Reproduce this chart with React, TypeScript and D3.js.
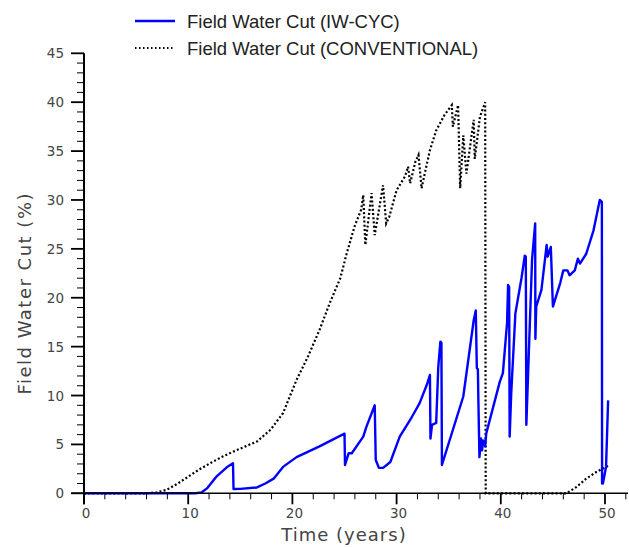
import React from "react";
import * as d3 from "d3";

const convTime = [0, 6.0, 7.0, 7.9, 9.0, 10.0, 11.0, 12.1, 13.2, 14.3, 15.5, 16.6, 17.9, 19.1, 20.4, 21.5, 22.6, 23.6, 24.6, 25.2, 26.0, 26.6, 26.8, 27.0, 27.6, 27.9, 28.7, 29.0, 29.3, 30.0, 30.8, 31.1, 31.3, 31.8, 32.1, 32.4, 32.7, 33.2, 33.8, 34.6, 35.3, 35.4, 35.9, 36.1, 36.4, 36.7, 37.4, 37.5, 38.0, 38.5, 38.55, 38.6, 46.3, 47.2, 48.2, 49.2, 50.3];
const convValue = [0, 0, 0.1, 0.34, 1.0, 1.7, 2.4, 3.07, 3.7, 4.25, 4.8, 5.3, 6.5, 8.2, 11.6, 14.0, 16.7, 19.5, 22.0, 24.5, 27.4, 29.0, 30.5, 25.4, 30.7, 26.4, 31.5, 27.6, 28.3, 31.0, 32.4, 33.4, 31.7, 33.9, 34.6, 31.2, 32.7, 35.1, 37.1, 38.7, 39.7, 37.5, 39.7, 31.2, 36.6, 32.7, 38.2, 34.2, 38.5, 40.0, 0, 0, 0, 0.6, 1.5, 2.2, 2.8];

const cycTime = [0, 10.7, 11.3, 11.8, 12.7, 13.7, 14.3, 14.35, 15.0, 16.6, 17.4, 18.2, 19.1, 20.4, 22.6, 25.0, 25.05, 25.4, 25.7, 26.8, 27.1, 27.9, 28.0, 28.3, 28.7, 29.4, 30.3, 31.3, 32.2, 32.9, 33.2, 33.25, 33.4, 33.8, 34.0, 34.2, 34.3, 34.35, 36.4, 37.4, 37.6, 37.7, 37.8, 37.85, 37.95, 38.1, 38.2, 38.3, 38.5, 38.6, 39.9, 40.2, 40.6, 40.7, 40.8, 40.85, 41.0, 41.4, 42.0, 42.3, 42.4, 42.45, 42.6, 43.0, 43.3, 43.32, 43.4, 43.9, 44.4, 44.5, 44.8, 45.0, 45.7, 46.0, 46.4, 46.6, 47.1, 47.4, 47.6, 48.2, 48.9, 49.5, 49.7, 49.72, 49.8, 50.1, 50.3];
const cycValue = [0, 0, 0.1, 0.5, 1.7, 2.66, 3.07, 0.44, 0.45, 0.6, 1.0, 1.5, 2.7, 3.7, 4.8, 6.1, 2.9, 4.1, 4.1, 5.8, 6.8, 9.0, 3.4, 2.6, 2.6, 3.2, 5.8, 7.5, 9.2, 11.1, 12.1, 5.6, 7.0, 7.2, 12.9, 15.5, 15.4, 2.9, 9.9, 17.7, 18.7, 12.8, 12.7, 9.4, 3.7, 5.6, 4.4, 5.4, 4.8, 6.1, 11.4, 12.3, 17.4, 21.3, 21.1, 5.8, 10.2, 18.4, 22.1, 24.3, 24.2, 7.0, 11.6, 23.9, 27.6, 15.8, 19.1, 20.8, 25.4, 24.2, 25.2, 19.1, 21.5, 22.8, 22.8, 22.3, 22.8, 24.0, 23.5, 24.5, 26.9, 30.0, 29.8, 1.0, 1.0, 2.7, 9.5];

const xTicks = [0, 10, 20, 30, 40, 50];
const yTicks = [0, 5, 10, 15, 20, 25, 30, 35, 40, 45];

const seriesNames = ["Field Water Cut (IW-CYC)", "Field Water Cut (CONVENTIONAL)"];

export default function App() {
  const W = 629, H = 547;
  const x = d3.scaleLinear().domain([0, 50]).range([84, 605]);
  const y = d3.scaleLinear().domain([0, 45]).range([493.3, 53.3]);
  const line = d3.line<[number, number]>().x(d => x(d[0])).y(d => y(d[1]));
  const cyc = cycTime.map((t, i) => [t, cycValue[i]] as [number, number]);
  const conv = convTime.map((t, i) => [t, convValue[i]] as [number, number]);
  const x0 = x(0), y0 = y(0);
  const xMinor = d3.range(0, 53, 2).filter(v => v % 10 !== 0);
  const yMinor = d3.range(0, 45, 1).filter(v => v % 5 !== 0);
  const tickFont = "'DejaVu Sans', sans-serif";
  const legFont = "'Liberation Sans', Arial, sans-serif";
  return (
    <svg width={W} height={H} style={{ position: "absolute", left: 0, top: 0, background: "#fff" }}>
      {/* legend */}
      <line x1={135} x2={175} y1={21} y2={21} stroke="#0000ff" strokeWidth={2.5} />
      <text x={187} y={27.5} fontFamily={legFont} fontSize={18.5} fill="#222">{seriesNames[0]}</text>
      <line x1={135} x2={175} y1={48} y2={48} stroke="#000" strokeWidth={2} strokeDasharray="1.5 2.5" />
      <text x={187} y={54.5} fontFamily={legFont} fontSize={18.5} fill="#222">{seriesNames[1]}</text>

      {/* data */}
      <path d={line(conv) || ""} fill="none" stroke="#000" strokeWidth={2.2} strokeDasharray="2 2.2" />
      <path d={line(cyc) || ""} fill="none" stroke="#0000ff" strokeWidth={2.4} strokeLinejoin="round" />

      {/* axes */}
      <line x1={x0} x2={x0} y1={y(45)} y2={y0 + 11} stroke="#000" strokeWidth={2} />
      <line x1={x0 - 13} x2={628} y1={y0} y2={y0} stroke="#000" strokeWidth={1.5} />
      {yTicks.map(v => (
        <g key={"yt" + v}>
          <line x1={x0 - 13} x2={x0} y1={y(v)} y2={y(v)} stroke="#000" strokeWidth={1.8} />
          <text x={64} y={y(v) + 5} textAnchor="end" fontFamily={tickFont} fontSize={13.5} fill="#444">{v}</text>
        </g>
      ))}
      {yMinor.map(v => (
        <line key={"ym" + v} x1={x0 - 7} x2={x0} y1={y(v)} y2={y(v)} stroke="#000" strokeWidth={1} />
      ))}
      {xTicks.map(v => (
        <g key={"xt" + v}>
          <line x1={x(v)} x2={x(v)} y1={y0} y2={y0 + 11} stroke="#000" strokeWidth={1.8} />
          <text x={x(v) + 2} y={y0 + 25} textAnchor="middle" fontFamily={tickFont} fontSize={13.5} fill="#444">{v}</text>
        </g>
      ))}
      {xMinor.map(v => (
        <line key={"xm" + v} x1={x(v)} x2={x(v)} y1={y0} y2={y0 + 6} stroke="#000" strokeWidth={1} />
      ))}
      <text x={344} y={541} textAnchor="middle" fontFamily={tickFont} fontSize={18} fill="#444" letterSpacing={1}>Time (years)</text>
      <text transform={`translate(31,${y(22.5) + 20}) rotate(-90)`} textAnchor="middle" fontFamily={tickFont} fontSize={18} fill="#444" letterSpacing={1.5}>Field Water Cut (%)</text>
    </svg>
  );
}
